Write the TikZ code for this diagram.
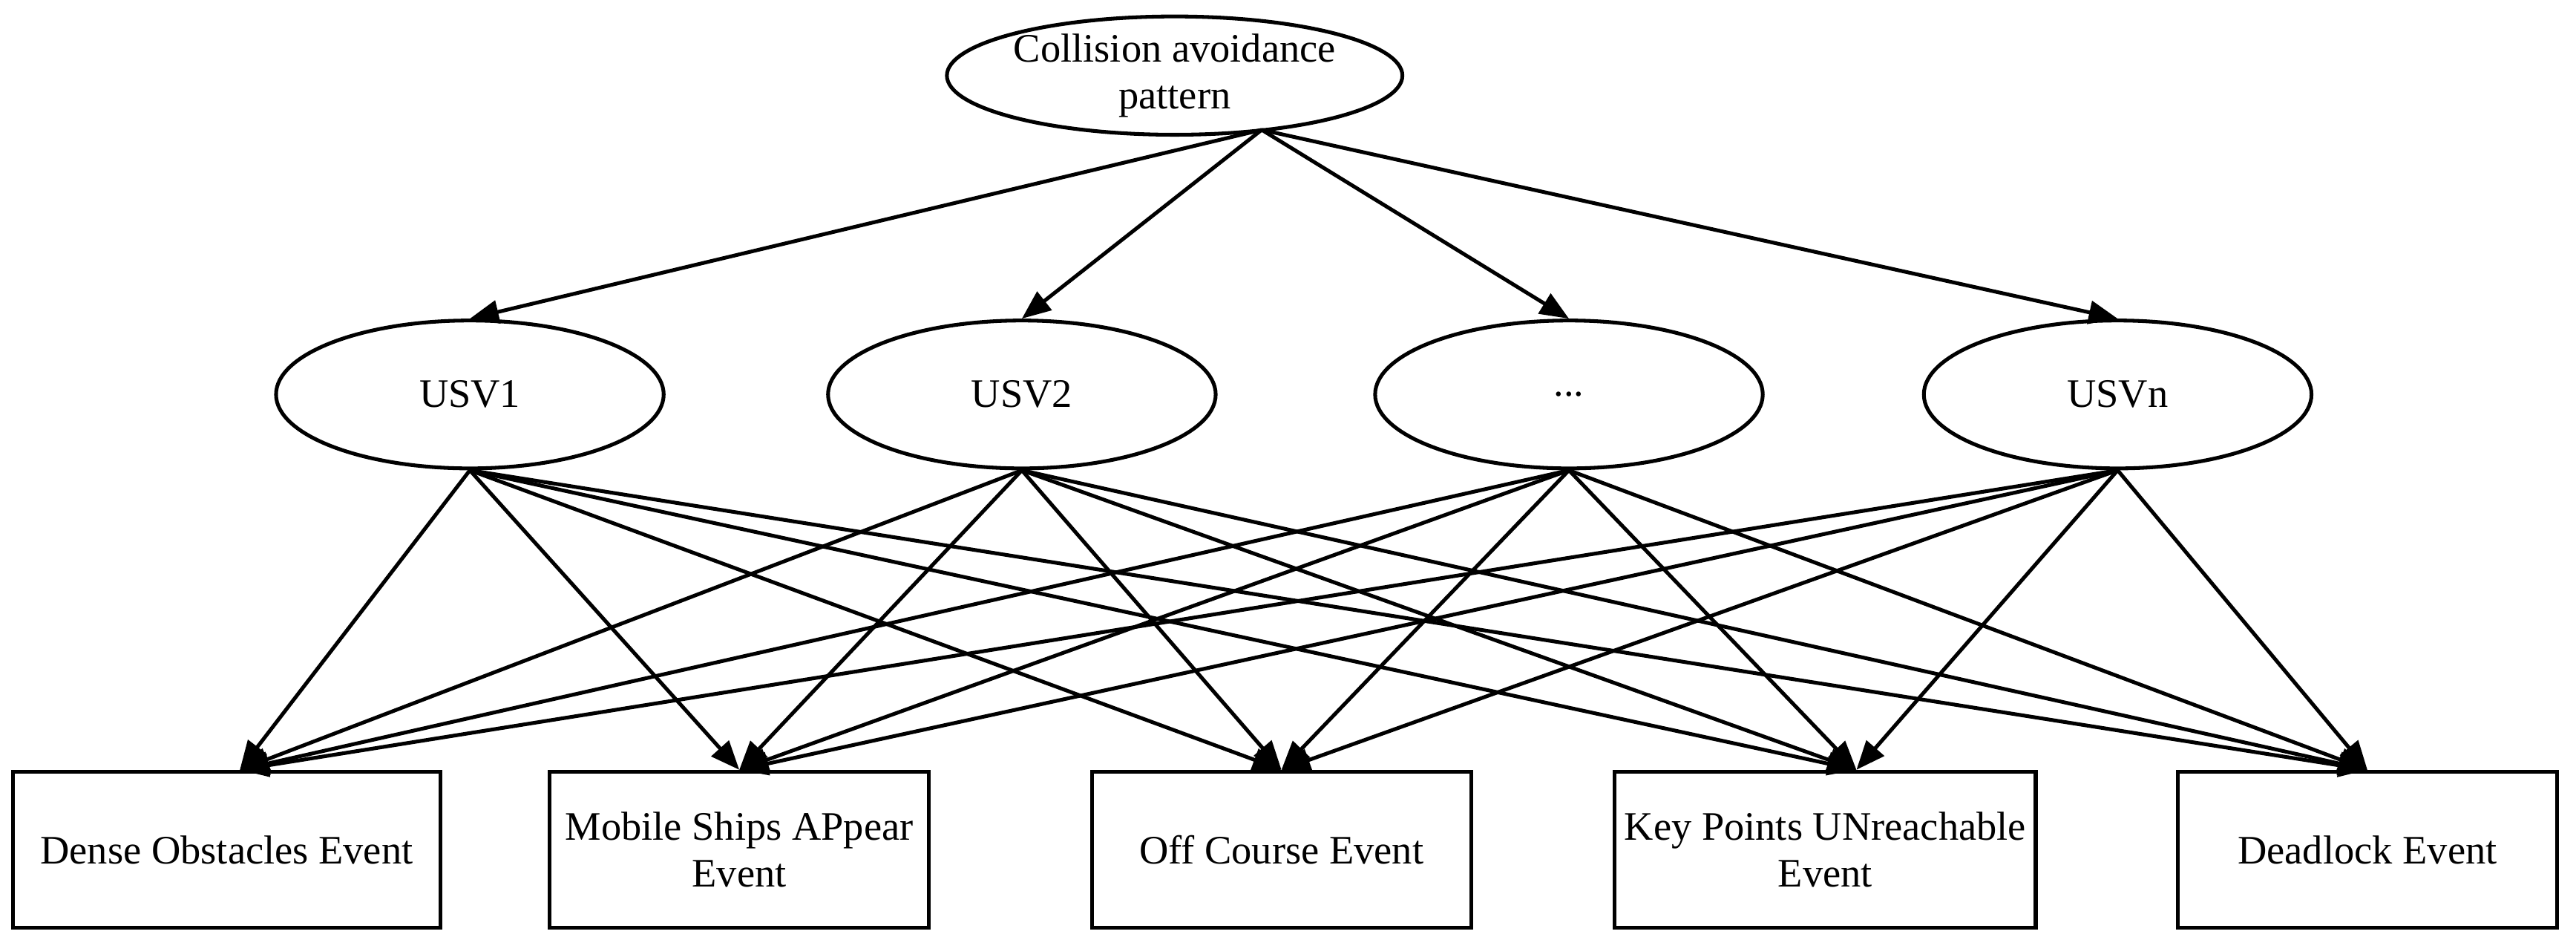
\documentclass[tikz,border=0pt]{standalone}
\usepackage{fontspec}
\setmainfont{Liberation Serif}
\usetikzlibrary{shapes.geometric,arrows.meta}
\begin{document}
\begin{tikzpicture}[x=0.02cm,y=-0.02cm,
 el/.style={draw,ellipse,line width=1.3pt,inner sep=0pt,font=\fontsize{14}{16}\selectfont,align=center},
 uel/.style={el,minimum width=4.72cm,minimum height=1.8cm},
 box/.style={draw,rectangle,line width=1.3pt,minimum width=4.62cm,minimum height=1.9cm,font=\fontsize{14}{16}\selectfont,align=center},
 ar/.style={line width=1.3pt,-{Triangle[length=10pt,width=8pt]}}]
\useasboundingbox (0,0) rectangle (1568,570);
\node[el,minimum width=3.7cm,minimum height=1.44cm] (top) at (715,46) {Collision avoidance\\pattern};
\node[uel] (u1) at (286,240) {USV1};
\node[uel] (u2) at (622,240) {USV2};
\node[uel] (u3) at (955,240) {...};
\node[uel] (u4) at (1289,240) {USVn};
\node[box,minimum width=5.2cm] (b1) at (138,517) {Dense Obstacles Event};
\node[box] (b2) at (450,517) {Mobile Ships APpear\\Event};
\node[box] (b3) at (780,517) {Off Course Event};
\node[box] (b4) at (1111,517) {Key Points UNreachable\\Event};
\node[box] (b5) at (1441,517) {Deadlock Event};
\coordinate (ts) at (768,79);
\foreach \n in {u1,u2,u3,u4} \draw[ar] (ts) -- (\n.north);
\foreach \n in {u1,u2,u3,u4}
  \foreach \b/\dx in {b1/8,b2/0,b3/0,b4/19,b5/0}
    \draw[ar] (\n.south) -- ([xshift=\dx*0.02cm]\b.north);
\end{tikzpicture}
\end{document}
